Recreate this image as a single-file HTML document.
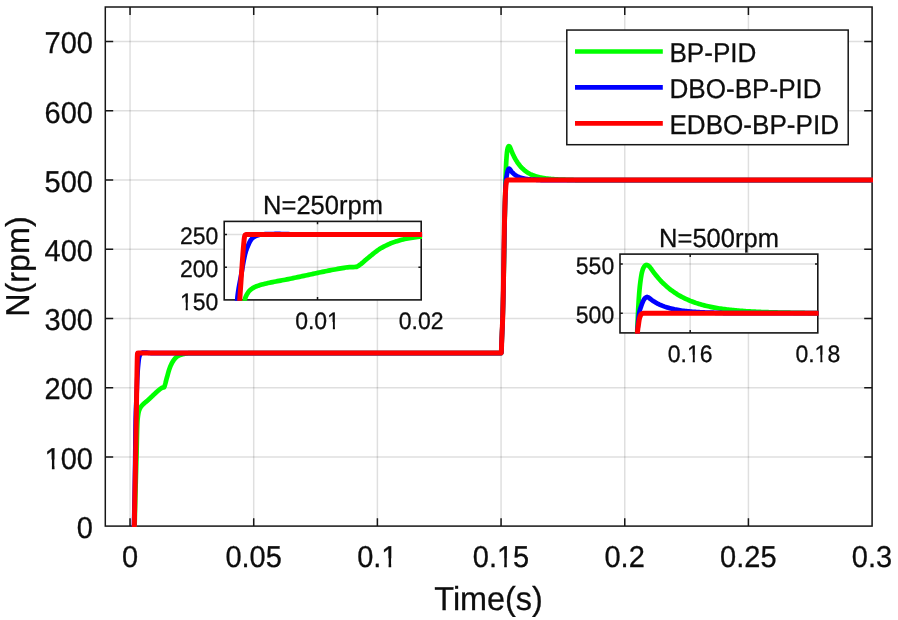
<!DOCTYPE html>
<html lang="en"><head><meta charset="utf-8"><title>Speed response</title>
<style>
html,body{margin:0;padding:0;background:#fff;}
body{width:898px;height:620px;overflow:hidden;position:relative;font-family:"Liberation Sans",Arial,sans-serif;}
</style></head><body>
<svg width="898" height="620" viewBox="0 0 898 620" style="position:absolute;left:0;top:0">
<defs>
<clipPath id="cm"><rect x="104.39999999999999" y="6.1" width="768.6" height="520.9"/></clipPath>
<clipPath id="c1"><rect x="223.29999999999998" y="220.5" width="198.8" height="80.29999999999997"/></clipPath>
<clipPath id="c2"><rect x="619.1" y="253.2" width="199.59999999999997" height="80.59999999999998"/></clipPath>
</defs>
<rect width="898" height="620" fill="#fff"/>
<path d="M130.04,7.0 V526.1 M253.71,7.0 V526.1 M377.39,7.0 V526.1 M501.07,7.0 V526.1 M624.75,7.0 V526.1 M748.42,7.0 V526.1 M872.10,7.0 V526.1" stroke="#000" stroke-opacity="0.125" stroke-width="1.5" fill="none"/>
<path d="M105.3,456.89 H872.1 M105.3,387.67 H872.1 M105.3,318.46 H872.1 M105.3,249.25 H872.1 M105.3,180.03 H872.1 M105.3,110.82 H872.1 M105.3,41.61 H872.1" stroke="#000" stroke-opacity="0.125" stroke-width="1.5" fill="none"/>
<path d="M130.04,526.1 v-7.9 M130.04,7.0 v7.9 M253.71,526.1 v-7.9 M253.71,7.0 v7.9 M377.39,526.1 v-7.9 M377.39,7.0 v7.9 M501.07,526.1 v-7.9 M501.07,7.0 v7.9 M624.75,526.1 v-7.9 M624.75,7.0 v7.9 M748.42,526.1 v-7.9 M748.42,7.0 v7.9 M105.3,456.89 h7.9 M872.1,456.89 h-7.9 M105.3,387.67 h7.9 M872.1,387.67 h-7.9 M105.3,318.46 h7.9 M872.1,318.46 h-7.9 M105.3,249.25 h7.9 M872.1,249.25 h-7.9 M105.3,180.03 h7.9 M872.1,180.03 h-7.9 M105.3,110.82 h7.9 M872.1,110.82 h-7.9 M105.3,41.61 h7.9 M872.1,41.61 h-7.9" stroke="#161616" stroke-width="1.5" fill="none"/>
<rect x="105.3" y="7.0" width="766.8000000000001" height="519.1" fill="none" stroke="#161616" stroke-width="1.5"/>
<g clip-path="url(#cm)" fill="none" stroke-linejoin="round" stroke-linecap="butt">
<path d="M134.24,543.40 L134.27,542.07 L134.29,540.74 L134.32,539.41 L134.35,538.08 L134.38,536.75 L134.41,535.42 L134.43,534.08 L134.46,532.75 L134.49,531.42 L134.52,530.09 L134.55,528.76 L134.58,527.43 L134.61,526.10 L134.64,524.77 L134.67,523.43 L134.71,522.10 L134.74,520.77 L134.77,519.43 L134.80,518.10 L134.83,516.76 L134.87,515.43 L134.90,514.10 L134.93,512.77 L134.97,511.43 L135.00,510.10 L135.04,508.77 L135.07,507.43 L135.10,506.10 L135.14,504.77 L135.17,503.43 L135.21,502.10 L135.24,500.77 L135.28,499.44 L135.31,498.10 L135.35,496.77 L135.38,495.44 L135.42,494.11 L135.46,492.77 L135.49,491.44 L135.53,490.11 L135.56,488.78 L135.60,487.45 L135.63,486.12 L135.67,484.79 L135.71,483.46 L135.75,482.13 L135.78,480.80 L135.82,479.48 L135.86,478.15 L135.90,476.82 L135.93,475.49 L135.97,474.16 L136.01,472.83 L136.05,471.50 L136.09,470.17 L136.12,468.85 L136.16,467.52 L136.20,466.19 L136.24,464.86 L136.28,463.53 L136.31,462.20 L136.35,460.87 L136.39,459.54 L136.43,458.22 L136.47,456.89 L136.50,455.56 L136.54,454.23 L136.57,452.90 L136.60,451.56 L136.63,450.23 L136.66,448.89 L136.69,447.55 L136.72,446.21 L136.75,444.87 L136.78,443.53 L136.80,442.19 L136.83,440.85 L136.86,439.52 L136.89,438.18 L136.92,436.84 L136.96,435.51 L136.99,434.18 L137.03,432.86 L137.07,431.53 L137.11,430.21 L137.15,428.90 L137.20,427.58 L137.25,426.28 L137.30,424.98 L137.36,423.68 L137.42,422.39 L137.49,421.10 L137.58,419.73 L137.71,418.36 L137.86,417.01 L138.03,415.70 L138.22,414.37 L138.44,413.07 L138.69,411.90 L138.95,410.96 L139.23,410.08 L139.54,409.28 L139.86,408.58 L140.24,407.85 L140.65,407.20 L141.07,406.61 L141.49,406.08 L141.85,405.66 L142.22,405.25 L142.58,404.86 L142.95,404.48 L143.33,404.12 L143.70,403.77 L144.07,403.43 L144.45,403.10 L144.82,402.78 L145.20,402.47 L145.58,402.15 L145.96,401.84 L146.33,401.53 L146.71,401.22 L147.09,400.91 L147.47,400.59 L147.84,400.26 L148.22,399.92 L148.58,399.59 L148.95,399.25 L149.32,398.91 L149.68,398.57 L150.05,398.22 L150.42,397.87 L150.78,397.53 L151.15,397.18 L151.52,396.83 L151.88,396.48 L152.25,396.13 L152.61,395.77 L152.98,395.42 L153.35,395.07 L153.71,394.72 L154.08,394.38 L154.45,394.03 L154.81,393.69 L155.18,393.34 L155.55,393.00 L155.91,392.67 L156.28,392.33 L156.65,392.00 L157.02,391.67 L157.38,391.35 L157.75,391.03 L158.12,390.71 L158.49,390.40 L158.86,390.09 L159.23,389.79 L159.60,389.49 L159.97,389.20 L160.34,388.92 L160.71,388.64 L161.12,388.33 L161.53,388.03 L161.94,387.81 L162.38,387.68 L162.83,387.60 L163.27,387.53 L163.70,387.43 L164.10,387.26 L164.52,386.38 L164.91,385.04 L165.19,384.13 L165.46,383.17 L165.71,382.18 L165.97,381.17 L166.22,380.16 L166.48,379.16 L166.74,378.19 L167.01,377.24 L167.28,376.27 L167.54,375.30 L167.81,374.33 L168.08,373.37 L168.35,372.41 L168.62,371.47 L168.90,370.55 L169.18,369.66 L169.47,368.80 L169.76,367.97 L170.06,367.19 L170.36,366.43 L170.68,365.69 L171.00,364.96 L171.33,364.26 L171.66,363.57 L172.00,362.92 L172.34,362.29 L172.68,361.69 L173.03,361.13 L173.37,360.61 L173.73,360.11 L174.09,359.62 L174.45,359.15 L174.82,358.70 L175.19,358.27 L175.56,357.88 L175.94,357.51 L176.31,357.17 L176.69,356.87 L177.08,356.59 L177.48,356.32 L177.89,356.08 L178.29,355.85 L178.70,355.64 L179.10,355.45 L179.51,355.28 L179.89,355.13 L180.26,354.99 L180.64,354.85 L181.02,354.72 L181.40,354.60 L181.79,354.48 L182.17,354.36 L182.55,354.26 L182.93,354.16 L183.31,354.06 L183.69,353.98 L184.07,353.90 L184.45,353.83 L184.84,353.76 L185.23,353.69 L185.61,353.62 L186.00,353.56 L186.38,353.49 L186.77,353.43 L187.16,353.37 L187.54,353.31 L187.93,353.26 L188.32,353.21 L188.70,353.17 L189.09,353.13 L189.48,353.11 L189.86,353.08 L190.25,353.07 L190.64,353.07 L191.02,353.07 L191.41,353.07 L191.80,353.07 L192.18,353.07 L192.57,353.07 L192.96,353.07 L193.34,353.07 L193.73,353.07 L194.12,353.07 L194.50,353.07 L194.89,353.07 L195.27,353.07 L195.66,353.07 L196.05,353.07 L196.43,353.07 L196.82,353.07 L501.19,353.07 L501.36,352.03 L501.41,350.60 L501.46,349.18 L501.51,347.76 L501.56,346.33 L501.60,344.91 L501.65,343.49 L501.71,342.07 L501.76,340.65 L501.81,339.22 L501.86,337.92 L501.91,336.63 L501.97,335.33 L502.02,334.03 L502.08,332.73 L502.13,331.44 L502.19,330.14 L502.25,328.85 L502.31,327.55 L502.36,326.25 L502.42,324.96 L502.47,323.66 L502.52,322.36 L502.57,321.06 L502.61,319.76 L502.65,318.46 L502.74,315.36 L502.83,312.26 L502.92,309.15 L503.00,306.05 L503.08,302.94 L503.16,299.83 L503.23,296.72 L503.31,293.61 L503.38,290.50 L503.45,287.39 L503.51,284.28 L503.58,281.16 L503.65,278.05 L503.71,274.93 L503.77,271.82 L503.83,268.70 L503.89,265.59 L503.95,262.47 L504.01,259.35 L504.07,256.23 L504.12,253.11 L504.18,249.99 L504.23,246.88 L504.29,243.76 L504.35,240.64 L504.40,237.52 L504.46,234.40 L504.51,231.28 L504.57,228.16 L504.63,225.04 L504.68,221.92 L504.74,218.80 L504.80,215.69 L504.86,212.57 L504.92,209.45 L504.98,206.34 L505.05,203.22 L505.11,200.10 L505.18,196.99 L505.25,193.88 L505.28,192.57 L505.31,191.26 L505.33,189.95 L505.36,188.64 L505.39,187.34 L505.42,186.03 L505.45,184.72 L505.49,183.42 L505.52,182.11 L505.56,180.72 L505.60,179.33 L505.63,177.95 L505.67,176.56 L505.71,175.17 L505.76,173.78 L505.80,172.40 L505.85,171.01 L505.90,169.63 L505.95,168.25 L506.01,166.87 L506.06,165.50 L506.13,164.15 L506.20,162.81 L506.27,161.46 L506.35,160.13 L506.44,158.79 L506.53,157.47 L506.63,156.15 L506.74,154.79 L506.87,153.42 L507.01,152.08 L507.18,150.83 L507.40,149.48 L507.68,148.20 L507.99,147.23 L508.38,146.49 L508.81,146.12 L509.21,146.27 L509.60,146.60 L510.05,147.34 L510.47,148.33 L510.80,149.15 L511.13,150.02 L511.46,150.87 L511.78,151.66 L512.11,152.44 L512.45,153.20 L512.77,153.93 L513.10,154.64 L513.44,155.35 L513.76,156.02 L514.09,156.68 L514.42,157.32 L514.75,157.94 L515.08,158.54 L515.41,159.14 L515.91,159.99 L516.40,160.81 L516.90,161.59 L517.39,162.34 L517.89,163.06 L518.38,163.76 L518.88,164.42 L519.37,165.06 L519.87,165.67 L520.36,166.26 L520.86,166.82 L521.35,167.36 L521.84,167.87 L522.34,168.37 L522.83,168.85 L523.33,169.30 L523.82,169.74 L524.32,170.16 L524.81,170.56 L525.31,170.95 L525.80,171.32 L526.30,171.68 L526.79,172.02 L527.29,172.35 L527.78,172.66 L528.28,172.96 L528.77,173.25 L529.27,173.53 L529.76,173.79 L530.26,174.05 L530.75,174.29 L531.25,174.52 L531.74,174.75 L532.23,174.97 L532.73,175.17 L533.22,175.37 L533.72,175.56 L534.21,175.74 L534.71,175.92 L535.20,176.09 L535.70,176.25 L536.19,176.40 L536.69,176.55 L537.18,176.69 L537.68,176.83 L538.17,176.96 L538.67,177.08 L539.16,177.21 L539.66,177.32 L540.15,177.43 L540.64,177.54 L541.14,177.64 L541.63,177.74 L542.13,177.83 L542.62,177.92 L543.12,178.01 L543.61,178.09 L544.11,178.17 L544.60,178.24 L545.10,178.32 L545.59,178.39 L546.09,178.46 L546.58,178.52 L547.08,178.58 L547.57,178.64 L548.07,178.70 L548.56,178.75 L549.05,178.80 L549.55,178.85 L550.04,178.90 L550.54,178.95 L551.03,178.99 L551.53,179.04 L552.02,179.08 L552.52,179.12 L553.01,179.15 L553.51,179.19 L554.00,179.22 L554.50,179.26 L554.99,179.29 L555.49,179.32 L555.98,179.35 L556.48,179.38 L556.97,179.40 L557.46,179.43 L557.96,179.45 L558.45,179.48 L558.95,179.50 L559.44,179.52 L559.94,179.54 L560.43,179.56 L560.93,179.58 L561.42,179.60 L561.92,179.62 L562.41,179.63 L562.91,179.65 L563.40,179.67 L563.90,179.68 L564.39,179.70 L564.89,179.71 L565.26,179.72 L565.63,179.73 L566.00,179.74 L566.37,179.75 L566.74,179.76 L567.11,179.78 L567.48,179.79 L567.85,179.80 L568.22,179.81 L568.60,179.82 L568.97,179.83 L569.34,179.84 L569.71,179.85 L570.08,179.87 L570.45,179.88 L570.82,179.89 L571.19,179.90 L571.56,179.91 L571.93,179.92 L572.31,179.94 L572.68,179.95 L573.05,179.96 L573.42,179.97 L573.79,179.98 L574.16,180.00 L574.53,180.01 L574.90,180.02 L575.27,180.03 L896.84,180.03" stroke="#00ff00" stroke-width="4.7"/>
<path d="M133.65,543.40 L133.67,542.07 L133.70,540.74 L133.73,539.41 L133.75,538.08 L133.78,536.75 L133.81,535.42 L133.83,534.09 L133.86,532.75 L133.89,531.42 L133.91,530.09 L133.94,528.76 L133.97,527.43 L133.99,526.10 L134.02,524.77 L134.05,523.43 L134.08,522.10 L134.10,520.77 L134.13,519.44 L134.16,518.10 L134.19,516.77 L134.22,515.44 L134.25,514.10 L134.28,512.77 L134.31,511.44 L134.33,510.11 L134.36,508.77 L134.39,507.44 L134.42,506.11 L134.45,504.77 L134.48,503.44 L134.50,502.11 L134.53,500.78 L134.56,499.44 L134.59,498.11 L134.61,496.78 L134.64,495.44 L134.66,494.11 L134.69,492.78 L134.71,491.44 L134.74,490.11 L134.76,488.78 L134.78,487.45 L134.80,486.12 L134.82,484.80 L134.85,483.47 L134.87,482.14 L134.89,480.81 L134.91,479.48 L134.93,478.15 L134.95,476.82 L134.97,475.50 L134.99,474.17 L135.01,472.84 L135.03,471.51 L135.05,470.18 L135.07,468.85 L135.09,467.52 L135.11,466.19 L135.12,464.86 L135.14,463.53 L135.16,462.20 L135.18,460.87 L135.20,459.55 L135.21,458.22 L135.23,456.89 L135.25,455.56 L135.26,454.24 L135.28,452.91 L135.29,451.58 L135.31,450.26 L135.32,448.93 L135.33,447.60 L135.34,446.28 L135.36,444.95 L135.37,443.62 L135.38,442.30 L135.39,440.97 L135.41,439.64 L135.42,438.32 L135.43,436.99 L135.44,435.66 L135.46,434.34 L135.47,433.01 L135.49,431.69 L135.50,430.36 L135.52,429.04 L135.54,427.71 L135.55,426.39 L135.57,425.07 L135.59,423.75 L135.62,422.42 L135.64,421.10 L135.66,419.77 L135.69,418.44 L135.73,417.12 L135.77,415.79 L135.81,414.46 L135.85,413.13 L135.90,411.81 L135.95,410.48 L136.00,409.16 L136.05,407.83 L136.11,406.51 L136.16,405.18 L136.22,403.86 L136.28,402.53 L136.34,401.21 L136.39,399.89 L136.45,398.56 L136.51,397.24 L136.56,395.92 L136.62,394.59 L136.67,393.29 L136.72,391.98 L136.77,390.67 L136.82,389.36 L136.87,388.05 L136.92,386.74 L136.97,385.43 L137.02,384.13 L137.07,382.82 L137.13,381.51 L137.18,380.21 L137.24,378.91 L137.30,377.61 L137.37,376.31 L137.43,375.02 L137.51,373.73 L137.58,372.45 L137.66,371.16 L137.75,369.88 L137.86,368.61 L137.96,367.34 L138.08,366.08 L138.20,364.83 L138.34,363.39 L138.48,361.92 L138.64,360.49 L138.82,359.13 L139.03,357.91 L139.26,356.91 L139.54,355.94 L139.85,355.10 L140.18,354.45 L140.59,353.86 L141.04,353.38 L141.49,353.07 L141.90,352.89 L142.31,352.74 L142.73,352.64 L143.15,352.58 L143.52,352.56 L143.89,352.54 L144.26,352.53 L144.63,352.52 L145.00,352.52 L145.37,352.51 L145.78,352.53 L146.20,352.57 L146.61,352.62 L147.02,352.68 L147.43,352.74 L147.85,352.79 L148.25,352.83 L148.65,352.87 L149.05,352.90 L149.45,352.94 L149.85,352.97 L150.26,353.01 L150.66,353.04 L151.06,353.07 L501.19,353.07 L501.36,352.03 L501.41,350.60 L501.46,349.18 L501.51,347.76 L501.56,346.33 L501.60,344.91 L501.65,343.49 L501.71,342.07 L501.76,340.65 L501.81,339.22 L501.86,337.92 L501.91,336.63 L501.97,335.33 L502.02,334.03 L502.08,332.73 L502.13,331.44 L502.19,330.14 L502.25,328.85 L502.30,327.55 L502.36,326.25 L502.41,324.96 L502.47,323.66 L502.52,322.36 L502.56,321.06 L502.61,319.76 L502.65,318.46 L502.74,315.36 L502.83,312.25 L502.91,309.15 L502.99,306.04 L503.07,302.93 L503.14,299.81 L503.22,296.70 L503.28,293.58 L503.35,290.47 L503.41,287.35 L503.47,284.23 L503.53,281.11 L503.59,277.99 L503.64,274.87 L503.69,271.74 L503.75,268.62 L503.80,265.50 L503.85,262.37 L503.90,259.25 L503.96,256.13 L504.01,253.00 L504.06,249.88 L504.11,246.76 L504.17,243.64 L504.22,240.51 L504.28,237.39 L504.34,234.27 L504.40,231.16 L504.46,228.04 L504.52,224.92 L504.59,221.81 L504.66,218.70 L504.73,215.59 L504.81,212.48 L504.89,209.37 L504.97,206.27 L505.06,203.17 L505.15,200.07 L505.25,196.97 L505.35,193.88 L505.39,192.48 L505.44,191.07 L505.49,189.66 L505.55,188.24 L505.60,186.83 L505.67,185.43 L505.74,184.05 L505.82,182.68 L505.91,181.34 L506.01,180.03 L506.15,178.81 L506.33,177.62 L506.54,176.46 L506.76,175.33 L506.97,174.19 L507.19,173.06 L507.44,172.00 L507.70,171.04 L508.07,169.92 L508.49,169.10 L508.78,168.77 L509.08,168.61 L509.41,168.78 L509.73,169.10 L510.10,169.62 L510.47,170.21 L510.96,170.86 L511.46,171.47 L511.95,172.04 L512.45,172.57 L512.94,173.07 L513.44,173.54 L513.93,173.97 L514.42,174.37 L514.92,174.75 L515.41,175.10 L515.91,175.43 L516.40,175.74 L516.90,176.02 L517.39,176.29 L517.89,176.54 L518.38,176.77 L518.88,176.99 L519.37,177.19 L519.87,177.38 L520.36,177.56 L520.86,177.72 L521.35,177.88 L521.85,178.02 L522.34,178.16 L522.83,178.28 L523.33,178.40 L523.82,178.51 L524.32,178.61 L524.81,178.70 L525.31,178.79 L525.80,178.87 L526.30,178.95 L526.79,179.02 L527.29,179.09 L527.78,179.15 L528.28,179.21 L528.77,179.27 L529.27,179.32 L529.76,179.37 L530.26,179.41 L530.75,179.45 L531.25,179.49 L531.74,179.53 L532.23,179.56 L532.73,179.59 L533.22,179.62 L533.72,179.65 L534.21,179.67 L534.71,179.70 L535.20,179.72 L535.59,179.74 L535.98,179.76 L536.37,179.78 L536.76,179.80 L537.15,179.82 L537.53,179.84 L537.92,179.87 L538.31,179.89 L538.70,179.91 L539.09,179.93 L539.48,179.96 L539.87,179.98 L540.26,180.01 L540.64,180.03 L896.84,180.03" stroke="#0000ff" stroke-width="4.7"/>
<path d="M133.94,543.40 L133.97,542.07 L134.00,540.74 L134.02,539.41 L134.05,538.08 L134.08,536.75 L134.10,535.42 L134.13,534.09 L134.16,532.76 L134.18,531.42 L134.21,530.09 L134.24,528.76 L134.26,527.43 L134.29,526.10 L134.32,524.77 L134.34,523.43 L134.37,522.10 L134.39,520.77 L134.42,519.44 L134.45,518.10 L134.47,516.77 L134.50,515.44 L134.52,514.10 L134.55,512.77 L134.57,511.44 L134.60,510.10 L134.63,508.77 L134.65,507.44 L134.68,506.11 L134.70,504.77 L134.73,503.44 L134.75,502.11 L134.78,500.77 L134.80,499.44 L134.83,498.11 L134.85,496.77 L134.88,495.44 L134.91,494.11 L134.93,492.78 L134.96,491.44 L134.98,490.11 L135.01,488.78 L135.03,487.45 L135.06,486.12 L135.09,484.79 L135.11,483.46 L135.14,482.14 L135.16,480.81 L135.19,479.48 L135.22,478.15 L135.24,476.82 L135.27,475.49 L135.30,474.16 L135.32,472.83 L135.35,471.51 L135.37,470.18 L135.40,468.85 L135.43,467.52 L135.45,466.19 L135.48,464.86 L135.50,463.53 L135.53,462.20 L135.55,460.87 L135.58,459.55 L135.60,458.22 L135.63,456.89 L135.65,455.56 L135.67,454.24 L135.70,452.91 L135.72,451.59 L135.74,450.26 L135.77,448.94 L135.79,447.61 L135.81,446.29 L135.84,444.96 L135.86,443.64 L135.88,442.31 L135.90,440.98 L135.93,439.66 L135.95,438.33 L135.97,437.01 L135.99,435.68 L136.02,434.36 L136.04,433.03 L136.06,431.71 L136.08,430.38 L136.10,429.06 L136.12,427.73 L136.15,426.41 L136.17,425.08 L136.19,423.75 L136.21,422.43 L136.23,421.10 L136.25,419.80 L136.27,418.49 L136.29,417.18 L136.31,415.88 L136.33,414.57 L136.35,413.27 L136.37,411.96 L136.39,410.65 L136.41,409.35 L136.43,408.04 L136.45,406.73 L136.47,405.43 L136.49,404.12 L136.51,402.81 L136.53,401.51 L136.55,400.20 L136.57,398.89 L136.59,397.59 L136.61,396.28 L136.63,394.97 L136.65,393.67 L136.67,392.36 L136.69,391.06 L136.71,389.75 L136.74,388.40 L136.76,387.04 L136.78,385.69 L136.80,384.34 L136.82,382.98 L136.84,381.63 L136.86,380.28 L136.89,378.92 L136.91,377.57 L136.93,376.22 L136.95,374.86 L136.97,373.51 L137.00,372.16 L137.02,370.80 L137.04,369.45 L137.07,368.10 L137.09,366.74 L137.12,365.39 L137.15,364.04 L137.17,362.69 L137.20,361.34 L137.23,359.99 L137.27,358.48 L137.30,356.97 L137.36,355.49 L137.42,354.28 L137.53,353.41 L137.70,353.17 L137.95,353.07 L501.19,353.07 L501.36,352.03 L501.41,350.60 L501.46,349.18 L501.51,347.76 L501.56,346.33 L501.60,344.91 L501.65,343.49 L501.71,342.07 L501.76,340.65 L501.81,339.22 L501.86,337.92 L501.91,336.63 L501.97,335.33 L502.02,334.03 L502.08,332.73 L502.13,331.44 L502.19,330.14 L502.25,328.85 L502.30,327.55 L502.36,326.25 L502.41,324.96 L502.47,323.66 L502.52,322.36 L502.56,321.06 L502.61,319.76 L502.65,318.46 L502.74,315.36 L502.83,312.25 L502.91,309.14 L502.99,306.03 L503.06,302.91 L503.13,299.79 L503.20,296.67 L503.26,293.54 L503.32,290.42 L503.37,287.29 L503.43,284.16 L503.48,281.03 L503.53,277.89 L503.58,274.76 L503.63,271.63 L503.67,268.49 L503.72,265.36 L503.77,262.22 L503.81,259.09 L503.86,255.96 L503.91,252.83 L503.96,249.70 L504.01,246.57 L504.06,243.44 L504.11,240.32 L504.17,237.20 L504.22,234.08 L504.28,230.96 L504.35,227.85 L504.42,224.74 L504.49,221.63 L504.56,218.53 L504.64,215.43 L504.73,212.33 L504.82,209.24 L504.91,206.16 L505.01,203.08 L505.12,200.01 L505.23,196.94 L505.35,193.88 L505.43,192.31 L505.54,190.75 L505.66,189.19 L505.79,187.65 L505.89,186.35 L506.00,185.07 L506.14,183.84 L506.35,182.44 L506.63,181.28 L506.92,180.57 L507.25,180.17 L507.74,180.07 L508.24,180.03 L508.61,180.03 L508.98,180.03 L509.35,180.03 L509.73,180.03 L896.84,180.03" stroke="#ff0000" stroke-width="5.0"/>
</g>
<rect x="224.2" y="221.4" width="197.0" height="78.49999999999997" fill="#fff"/>
<path d="M317.52,221.4 V299.9" stroke="#000" stroke-opacity="0.125" stroke-width="1.5" fill="none"/>
<path d="M224.2,267.19 H421.2 M224.2,234.48 H421.2" stroke="#000" stroke-opacity="0.125" stroke-width="1.5" fill="none"/>
<path d="M317.52,299.9 v-2.8 M317.52,221.4 v2.8 M224.2,267.19 h2.8 M421.2,267.19 h-2.8 M224.2,234.48 h2.8 M421.2,234.48 h-2.8" stroke="#161616" stroke-width="1.5" fill="none"/>
<rect x="224.2" y="221.4" width="197.0" height="78.49999999999997" fill="none" stroke="#161616" stroke-width="1.6"/>
<g clip-path="url(#c1)" fill="none" stroke-linejoin="round" stroke-linecap="butt">
<path d="M231.46,414.38 L231.57,413.12 L231.68,411.86 L231.80,410.60 L231.92,409.35 L232.03,408.09 L232.15,406.83 L232.27,405.57 L232.39,404.31 L232.51,403.06 L232.63,401.80 L232.76,400.54 L232.89,399.28 L233.01,398.02 L233.14,396.76 L233.27,395.50 L233.41,394.24 L233.54,392.98 L233.67,391.72 L233.81,390.46 L233.95,389.20 L234.08,387.94 L234.22,386.68 L234.36,385.42 L234.50,384.16 L234.65,382.90 L234.79,381.64 L234.93,380.38 L235.08,379.12 L235.22,377.86 L235.37,376.60 L235.51,375.34 L235.66,374.08 L235.81,372.82 L235.96,371.56 L236.10,370.31 L236.25,369.05 L236.40,367.79 L236.55,366.53 L236.70,365.27 L236.85,364.01 L237.00,362.75 L237.15,361.50 L237.30,360.24 L237.46,358.98 L237.61,357.73 L237.77,356.47 L237.92,355.21 L238.08,353.96 L238.24,352.70 L238.39,351.45 L238.55,350.19 L238.71,348.93 L238.87,347.68 L239.03,346.42 L239.19,345.17 L239.35,343.91 L239.51,342.66 L239.67,341.40 L239.83,340.14 L239.99,338.89 L240.15,337.63 L240.31,336.38 L240.47,335.12 L240.63,333.86 L240.79,332.61 L240.94,331.35 L241.09,330.10 L241.23,328.84 L241.36,327.58 L241.49,326.31 L241.61,325.05 L241.73,323.78 L241.85,322.52 L241.97,321.25 L242.08,319.99 L242.20,318.72 L242.32,317.45 L242.45,316.19 L242.58,314.93 L242.71,313.67 L242.85,312.41 L242.99,311.15 L243.15,309.90 L243.31,308.64 L243.48,307.40 L243.67,306.15 L243.86,304.91 L244.07,303.68 L244.30,302.45 L244.54,301.22 L244.79,300.00 L245.06,298.79 L245.46,297.49 L246.00,296.19 L246.65,294.92 L247.34,293.69 L248.14,292.42 L249.07,291.20 L250.12,290.09 L251.18,289.20 L252.39,288.37 L253.67,287.61 L254.99,286.95 L256.62,286.26 L258.32,285.65 L260.08,285.09 L261.84,284.59 L263.36,284.19 L264.89,283.80 L266.43,283.43 L267.98,283.08 L269.54,282.74 L271.10,282.41 L272.67,282.09 L274.25,281.78 L275.82,281.47 L277.40,281.17 L278.99,280.88 L280.57,280.58 L282.15,280.29 L283.74,280.00 L285.32,279.70 L286.89,279.40 L288.47,279.09 L290.04,278.77 L291.58,278.45 L293.12,278.13 L294.65,277.81 L296.19,277.49 L297.73,277.16 L299.26,276.83 L300.80,276.50 L302.34,276.17 L303.87,275.84 L305.41,275.51 L306.94,275.18 L308.48,274.85 L310.01,274.52 L311.55,274.19 L313.08,273.86 L314.62,273.53 L316.16,273.20 L317.69,272.87 L319.23,272.55 L320.77,272.23 L322.31,271.91 L323.85,271.59 L325.39,271.28 L326.93,270.97 L328.47,270.66 L330.01,270.36 L331.56,270.06 L333.10,269.77 L334.65,269.48 L336.20,269.19 L337.75,268.91 L339.30,268.64 L340.85,268.37 L342.40,268.11 L344.12,267.81 L345.85,267.53 L347.58,267.32 L349.42,267.20 L351.29,267.12 L353.16,267.06 L354.95,266.96 L356.60,266.80 L358.39,265.97 L360.03,264.71 L361.19,263.85 L362.30,262.94 L363.38,262.00 L364.45,261.05 L365.51,260.09 L366.59,259.15 L367.70,258.23 L368.82,257.33 L369.93,256.42 L371.05,255.50 L372.17,254.58 L373.29,253.67 L374.43,252.77 L375.57,251.88 L376.73,251.01 L377.91,250.17 L379.12,249.35 L380.34,248.57 L381.59,247.83 L382.88,247.11 L384.19,246.41 L385.54,245.73 L386.91,245.06 L388.31,244.41 L389.72,243.79 L391.15,243.20 L392.59,242.64 L394.03,242.11 L395.49,241.61 L396.97,241.14 L398.48,240.68 L400.01,240.23 L401.55,239.81 L403.10,239.41 L404.66,239.03 L406.23,238.68 L407.81,238.36 L409.38,238.08 L411.05,237.81 L412.72,237.56 L414.41,237.33 L416.11,237.11 L417.80,236.92 L419.50,236.74 L421.20,236.58 L422.79,236.44 L424.38,236.30 L425.97,236.17 L427.56,236.05 L429.16,235.93 L430.75,235.82 L432.35,235.71 L433.95,235.61 L435.55,235.51 L437.14,235.43 L438.74,235.34 L440.34,235.27 L441.94,235.20 L443.55,235.14 L445.17,235.07 L446.79,235.01 L448.41,234.95 L450.03,234.88 L451.65,234.82 L453.27,234.77 L454.89,234.71 L456.51,234.67 L458.13,234.62 L459.75,234.58 L461.37,234.55 L463.00,234.52 L464.62,234.50 L466.24,234.49 L467.86,234.48 L469.48,234.48 L471.10,234.48 L472.72,234.48 L474.34,234.48 L475.96,234.48 L477.58,234.48 L479.20,234.48 L480.82,234.48 L482.44,234.48 L484.06,234.48 L485.68,234.48 L487.30,234.48 L488.92,234.48 L490.54,234.48 L492.16,234.48 L493.78,234.48 L1769.61,234.48" stroke="#00ff00" stroke-width="4.7"/>
<path d="M228.97,414.38 L229.08,413.12 L229.19,411.86 L229.30,410.60 L229.41,409.35 L229.52,408.09 L229.64,406.83 L229.75,405.57 L229.86,404.31 L229.97,403.06 L230.08,401.80 L230.20,400.54 L230.31,399.28 L230.42,398.02 L230.54,396.77 L230.65,395.51 L230.77,394.25 L230.89,392.99 L231.00,391.73 L231.12,390.47 L231.25,389.21 L231.37,387.95 L231.49,386.69 L231.61,385.43 L231.73,384.17 L231.85,382.91 L231.97,381.65 L232.09,380.39 L232.21,379.13 L232.33,377.87 L232.45,376.61 L232.57,375.35 L232.68,374.09 L232.79,372.83 L232.91,371.57 L233.02,370.31 L233.12,369.05 L233.23,367.79 L233.33,366.53 L233.43,365.27 L233.53,364.01 L233.63,362.75 L233.72,361.50 L233.81,360.24 L233.91,358.99 L234.00,357.73 L234.09,356.48 L234.18,355.22 L234.26,353.96 L234.35,352.71 L234.43,351.45 L234.52,350.20 L234.60,348.94 L234.68,347.68 L234.77,346.43 L234.85,345.17 L234.93,343.92 L235.00,342.66 L235.08,341.40 L235.16,340.15 L235.24,338.89 L235.31,337.63 L235.39,336.38 L235.46,335.12 L235.53,333.86 L235.61,332.61 L235.68,331.36 L235.74,330.10 L235.80,328.85 L235.87,327.60 L235.92,326.34 L235.98,325.09 L236.03,323.83 L236.09,322.58 L236.14,321.33 L236.19,320.07 L236.24,318.82 L236.29,317.56 L236.34,316.31 L236.39,315.06 L236.45,313.80 L236.50,312.55 L236.56,311.30 L236.62,310.04 L236.68,308.79 L236.75,307.54 L236.81,306.29 L236.89,305.03 L236.96,303.78 L237.04,302.53 L237.13,301.28 L237.22,300.04 L237.32,298.79 L237.43,297.53 L237.55,296.27 L237.70,295.02 L237.86,293.76 L238.03,292.51 L238.21,291.26 L238.41,290.00 L238.62,288.75 L238.83,287.50 L239.06,286.24 L239.29,284.99 L239.52,283.74 L239.76,282.49 L240.00,281.24 L240.24,279.99 L240.48,278.74 L240.72,277.49 L240.96,276.23 L241.19,274.98 L241.41,273.73 L241.63,272.50 L241.84,271.26 L242.05,270.03 L242.26,268.79 L242.47,267.55 L242.68,266.31 L242.89,265.08 L243.11,263.84 L243.33,262.60 L243.56,261.37 L243.79,260.14 L244.04,258.91 L244.29,257.68 L244.56,256.45 L244.85,255.23 L245.14,254.01 L245.46,252.80 L245.80,251.59 L246.19,250.38 L246.61,249.17 L247.07,247.97 L247.55,246.78 L248.05,245.60 L248.63,244.24 L249.23,242.86 L249.90,241.50 L250.65,240.22 L251.52,239.06 L252.49,238.11 L253.67,237.20 L254.99,236.41 L256.34,235.79 L258.07,235.23 L259.94,234.78 L261.84,234.48 L263.55,234.31 L265.29,234.18 L267.04,234.08 L268.78,234.03 L270.34,234.01 L271.89,233.99 L273.45,233.98 L275.00,233.97 L276.56,233.96 L278.12,233.96 L279.84,233.97 L281.57,234.01 L283.30,234.06 L285.03,234.12 L286.76,234.18 L288.48,234.22 L290.17,234.26 L291.85,234.29 L293.54,234.33 L295.22,234.36 L296.91,234.39 L298.59,234.43 L300.28,234.46 L301.96,234.48 L1769.61,234.48" stroke="#0000ff" stroke-width="4.7"/>
<path d="M230.21,414.38 L230.33,413.12 L230.44,411.86 L230.55,410.61 L230.66,409.35 L230.78,408.09 L230.89,406.83 L231.00,405.57 L231.11,404.32 L231.22,403.06 L231.33,401.80 L231.45,400.54 L231.56,399.28 L231.67,398.02 L231.77,396.77 L231.88,395.51 L231.99,394.25 L232.10,392.99 L232.21,391.73 L232.32,390.47 L232.43,389.21 L232.53,387.95 L232.64,386.69 L232.75,385.43 L232.86,384.17 L232.96,382.91 L233.07,381.65 L233.18,380.39 L233.28,379.13 L233.39,377.87 L233.50,376.61 L233.60,375.35 L233.71,374.09 L233.82,372.83 L233.92,371.57 L234.03,370.31 L234.14,369.05 L234.25,367.79 L234.35,366.53 L234.46,365.27 L234.57,364.01 L234.68,362.75 L234.78,361.50 L234.89,360.24 L235.00,358.98 L235.11,357.73 L235.22,356.47 L235.33,355.22 L235.44,353.96 L235.55,352.70 L235.66,351.45 L235.77,350.19 L235.88,348.94 L235.99,347.68 L236.10,346.43 L236.21,345.17 L236.32,343.91 L236.43,342.66 L236.53,341.40 L236.64,340.15 L236.75,338.89 L236.85,337.63 L236.96,336.38 L237.06,335.12 L237.16,333.86 L237.26,332.61 L237.36,331.36 L237.46,330.10 L237.56,328.85 L237.66,327.60 L237.76,326.35 L237.86,325.09 L237.95,323.84 L238.05,322.59 L238.15,321.34 L238.24,320.08 L238.34,318.83 L238.43,317.58 L238.52,316.33 L238.62,315.07 L238.71,313.82 L238.80,312.57 L238.90,311.32 L238.99,310.06 L239.08,308.81 L239.17,307.56 L239.26,306.30 L239.35,305.05 L239.44,303.80 L239.53,302.55 L239.63,301.29 L239.71,300.04 L239.80,298.79 L239.89,297.55 L239.98,296.32 L240.06,295.08 L240.15,293.85 L240.23,292.61 L240.32,291.38 L240.40,290.15 L240.48,288.91 L240.57,287.68 L240.65,286.44 L240.73,285.21 L240.81,283.97 L240.89,282.74 L240.98,281.50 L241.06,280.27 L241.14,279.03 L241.22,277.80 L241.31,276.56 L241.39,275.33 L241.48,274.09 L241.56,272.86 L241.65,271.62 L241.74,270.39 L241.83,269.15 L241.92,267.88 L242.01,266.60 L242.10,265.32 L242.19,264.04 L242.28,262.76 L242.37,261.48 L242.46,260.20 L242.54,258.92 L242.63,257.64 L242.73,256.36 L242.82,255.08 L242.91,253.80 L243.01,252.52 L243.11,251.25 L243.21,249.97 L243.31,248.69 L243.42,247.41 L243.53,246.13 L243.64,244.86 L243.76,243.58 L243.88,242.30 L244.00,241.03 L244.14,239.60 L244.30,238.18 L244.52,236.77 L244.79,235.63 L245.25,234.81 L245.95,234.58 L247.01,234.48 L1769.61,234.48" stroke="#ff0000" stroke-width="5.0"/>
</g>
<rect x="620.0" y="254.1" width="197.79999999999995" height="78.79999999999998" fill="#fff"/>
<path d="M690.19,254.1 V332.9" stroke="#000" stroke-opacity="0.125" stroke-width="1.5" fill="none"/>
<path d="M620.0,313.20 H817.8 M620.0,263.95 H817.8" stroke="#000" stroke-opacity="0.125" stroke-width="1.5" fill="none"/>
<path d="M690.19,332.9 v-2.8 M690.19,254.1 v2.8 M620.0,313.20 h2.8 M817.8,313.20 h-2.8 M620.0,263.95 h2.8 M817.8,263.95 h-2.8" stroke="#161616" stroke-width="1.5" fill="none"/>
<rect x="620.0" y="254.1" width="197.79999999999995" height="78.79999999999998" fill="none" stroke="#161616" stroke-width="1.6"/>
<g clip-path="url(#c2)" fill="none" stroke-linejoin="round" stroke-linecap="butt">
<path d="M-158.44,559.45 L626.70,559.45 L627.15,557.97 L627.27,555.95 L627.39,553.92 L627.51,551.89 L627.64,549.87 L627.77,547.84 L627.90,545.82 L628.03,543.80 L628.16,541.77 L628.29,539.75 L628.42,537.90 L628.56,536.05 L628.70,534.21 L628.84,532.36 L628.99,530.52 L629.13,528.67 L629.28,526.82 L629.43,524.98 L629.57,523.14 L629.72,521.29 L629.86,519.44 L629.99,517.60 L630.12,515.75 L630.24,513.90 L630.36,512.05 L630.46,510.20 L630.70,505.79 L630.93,501.37 L631.15,496.95 L631.36,492.53 L631.57,488.11 L631.77,483.69 L631.96,479.27 L632.15,474.84 L632.34,470.41 L632.52,465.98 L632.69,461.55 L632.86,457.12 L633.03,452.69 L633.19,448.26 L633.35,443.82 L633.51,439.39 L633.66,434.95 L633.82,430.52 L633.97,426.08 L634.11,421.64 L634.26,417.20 L634.40,412.76 L634.55,408.33 L634.69,403.89 L634.84,399.45 L634.98,395.01 L635.12,390.57 L635.27,386.13 L635.41,381.69 L635.56,377.25 L635.71,372.81 L635.86,368.38 L636.01,363.94 L636.16,359.50 L636.32,355.07 L636.48,350.63 L636.65,346.20 L636.82,341.76 L636.99,337.33 L637.16,332.90 L637.24,331.04 L637.31,329.18 L637.39,327.32 L637.46,325.45 L637.54,323.59 L637.61,321.73 L637.69,319.87 L637.78,318.01 L637.87,316.15 L637.96,314.18 L638.06,312.21 L638.16,310.23 L638.26,308.25 L638.37,306.28 L638.48,304.30 L638.59,302.33 L638.71,300.36 L638.84,298.39 L638.98,296.43 L639.12,294.47 L639.27,292.51 L639.43,290.60 L639.61,288.69 L639.80,286.77 L640.01,284.87 L640.24,282.97 L640.48,281.09 L640.74,279.22 L641.02,277.27 L641.35,275.32 L641.71,273.42 L642.14,271.63 L642.72,269.71 L643.43,267.89 L644.25,266.51 L645.24,265.46 L646.35,264.94 L647.38,265.15 L648.39,265.62 L649.54,266.68 L650.63,268.09 L651.49,269.25 L652.33,270.48 L653.18,271.69 L654.02,272.82 L654.87,273.93 L655.73,275.01 L656.58,276.05 L657.43,277.07 L658.28,278.07 L659.13,279.02 L659.98,279.96 L660.84,280.88 L661.68,281.76 L662.53,282.62 L663.39,283.46 L664.66,284.67 L665.94,285.84 L667.21,286.95 L668.49,288.03 L669.77,289.05 L671.05,290.04 L672.32,290.98 L673.60,291.89 L674.87,292.76 L676.15,293.59 L677.42,294.39 L678.70,295.16 L679.98,295.90 L681.25,296.60 L682.53,297.28 L683.81,297.93 L685.08,298.55 L686.36,299.15 L687.63,299.72 L688.91,300.27 L690.19,300.80 L691.46,301.31 L692.74,301.79 L694.02,302.26 L695.29,302.71 L696.57,303.13 L697.84,303.54 L699.12,303.94 L700.40,304.32 L701.67,304.68 L702.95,305.03 L704.22,305.36 L705.50,305.68 L706.78,305.99 L708.05,306.28 L709.33,306.56 L710.60,306.83 L711.88,307.09 L713.16,307.34 L714.43,307.58 L715.71,307.81 L716.99,308.03 L718.26,308.24 L719.54,308.45 L720.81,308.64 L722.09,308.83 L723.37,309.00 L724.64,309.18 L725.92,309.34 L727.19,309.50 L728.47,309.65 L729.75,309.79 L731.02,309.93 L732.30,310.07 L733.58,310.19 L734.85,310.32 L736.13,310.43 L737.40,310.55 L738.68,310.65 L739.96,310.76 L741.23,310.86 L742.51,310.95 L743.78,311.05 L745.06,311.13 L746.34,311.22 L747.61,311.30 L748.89,311.38 L750.17,311.45 L751.44,311.52 L752.72,311.59 L753.99,311.66 L755.27,311.72 L756.55,311.78 L757.82,311.84 L759.10,311.89 L760.37,311.95 L761.65,312.00 L762.93,312.05 L764.20,312.09 L765.48,312.14 L766.75,312.18 L768.03,312.22 L769.31,312.26 L770.58,312.30 L771.86,312.34 L773.14,312.37 L774.41,312.41 L775.69,312.44 L776.96,312.47 L778.24,312.50 L779.52,312.53 L780.79,312.56 L782.07,312.58 L783.34,312.61 L784.62,312.63 L785.90,312.66 L787.17,312.68 L788.45,312.70 L789.73,312.72 L791.00,312.74 L791.96,312.75 L792.92,312.77 L793.87,312.79 L794.83,312.80 L795.79,312.82 L796.74,312.83 L797.70,312.85 L798.66,312.86 L799.62,312.88 L800.57,312.90 L801.53,312.91 L802.49,312.93 L803.44,312.95 L804.40,312.96 L805.36,312.98 L806.31,312.99 L807.27,313.01 L808.23,313.03 L809.19,313.04 L810.14,313.06 L811.10,313.08 L812.06,313.10 L813.01,313.11 L813.97,313.13 L814.93,313.15 L815.89,313.16 L816.84,313.18 L817.80,313.20 L1647.28,313.20" stroke="#00ff00" stroke-width="4.7"/>
<path d="M-276.48,559.45 L626.70,559.45 L627.15,557.97 L627.27,555.95 L627.39,553.92 L627.51,551.89 L627.64,549.87 L627.77,547.84 L627.90,545.82 L628.03,543.80 L628.16,541.77 L628.29,539.75 L628.42,537.90 L628.56,536.05 L628.70,534.21 L628.84,532.36 L628.98,530.51 L629.13,528.67 L629.28,526.82 L629.42,524.98 L629.57,523.13 L629.71,521.29 L629.85,519.44 L629.99,517.60 L630.12,515.75 L630.24,513.90 L630.36,512.05 L630.46,510.20 L630.70,505.79 L630.93,501.37 L631.15,496.95 L631.35,492.52 L631.55,488.09 L631.74,483.67 L631.92,479.23 L632.09,474.80 L632.26,470.36 L632.42,465.93 L632.58,461.49 L632.73,457.05 L632.87,452.60 L633.02,448.16 L633.16,443.72 L633.29,439.27 L633.43,434.83 L633.56,430.38 L633.70,425.94 L633.83,421.49 L633.96,417.05 L634.10,412.60 L634.24,408.16 L634.37,403.71 L634.52,399.27 L634.66,394.83 L634.81,390.39 L634.97,385.95 L635.13,381.52 L635.29,377.09 L635.47,372.65 L635.65,368.22 L635.83,363.80 L636.03,359.37 L636.24,354.95 L636.45,350.54 L636.68,346.12 L636.91,341.71 L637.16,337.30 L637.42,332.90 L637.54,330.91 L637.66,328.91 L637.79,326.89 L637.93,324.88 L638.08,322.87 L638.25,320.88 L638.44,318.91 L638.65,316.97 L638.88,315.06 L639.14,313.20 L639.49,311.46 L639.96,309.77 L640.51,308.11 L641.06,306.50 L641.60,304.88 L642.18,303.28 L642.81,301.76 L643.48,300.39 L644.44,298.81 L645.52,297.64 L646.27,297.17 L647.05,296.95 L647.89,297.18 L648.71,297.64 L649.68,298.38 L650.63,299.21 L651.90,300.14 L653.18,301.02 L654.45,301.82 L655.73,302.59 L657.00,303.29 L658.28,303.95 L659.56,304.57 L660.84,305.14 L662.11,305.68 L663.39,306.18 L664.66,306.65 L665.94,307.09 L667.22,307.49 L668.49,307.87 L669.77,308.23 L671.05,308.56 L672.32,308.87 L673.60,309.16 L674.87,309.43 L676.15,309.68 L677.43,309.91 L678.70,310.13 L679.98,310.34 L681.25,310.53 L682.53,310.71 L683.81,310.87 L685.08,311.03 L686.36,311.17 L687.63,311.31 L688.91,311.43 L690.19,311.55 L691.46,311.66 L692.74,311.76 L694.02,311.86 L695.29,311.95 L696.57,312.03 L697.84,312.11 L699.12,312.18 L700.40,312.25 L701.67,312.31 L702.95,312.37 L704.22,312.43 L705.50,312.48 L706.78,312.53 L708.05,312.57 L709.33,312.61 L710.61,312.65 L711.88,312.69 L713.16,312.72 L714.43,312.76 L715.44,312.78 L716.44,312.81 L717.44,312.84 L718.44,312.87 L719.45,312.90 L720.45,312.93 L721.45,312.96 L722.46,312.99 L723.46,313.03 L724.46,313.06 L725.46,313.09 L726.47,313.13 L727.47,313.16 L728.47,313.20 L1647.28,313.20" stroke="#0000ff" stroke-width="4.7"/>
<path d="M-310.30,559.45 L626.70,559.45 L627.15,557.97 L627.27,555.95 L627.39,553.92 L627.51,551.89 L627.64,549.87 L627.77,547.84 L627.90,545.82 L628.03,543.80 L628.16,541.77 L628.29,539.75 L628.42,537.90 L628.56,536.05 L628.70,534.21 L628.84,532.36 L628.98,530.51 L629.13,528.67 L629.28,526.82 L629.42,524.98 L629.57,523.13 L629.71,521.29 L629.85,519.44 L629.99,517.60 L630.12,515.75 L630.24,513.90 L630.36,512.05 L630.46,510.20 L630.70,505.78 L630.92,501.36 L631.14,496.94 L631.33,492.50 L631.52,488.07 L631.70,483.63 L631.87,479.19 L632.03,474.74 L632.18,470.29 L632.33,465.84 L632.47,461.38 L632.60,456.93 L632.73,452.47 L632.86,448.01 L632.98,443.55 L633.11,439.09 L633.22,434.63 L633.34,430.17 L633.46,425.71 L633.58,421.25 L633.71,416.80 L633.83,412.34 L633.96,407.89 L634.09,403.44 L634.23,398.99 L634.37,394.55 L634.52,390.11 L634.68,385.68 L634.84,381.24 L635.02,376.82 L635.20,372.40 L635.39,367.98 L635.60,363.57 L635.82,359.17 L636.05,354.77 L636.29,350.38 L636.55,346.00 L636.82,341.62 L637.11,337.26 L637.42,332.90 L637.63,330.67 L637.91,328.45 L638.24,326.24 L638.57,324.03 L638.83,322.19 L639.11,320.36 L639.46,318.62 L640.01,316.63 L640.74,314.97 L641.48,313.97 L642.33,313.40 L643.59,313.25 L644.88,313.20 L645.84,313.20 L646.80,313.20 L647.76,313.20 L648.71,313.20 L1647.28,313.20" stroke="#ff0000" stroke-width="5.0"/>
</g>
<rect x="566.8" y="30.05" width="281.4000000000001" height="114.64999999999999" fill="#fff" stroke="#161616" stroke-width="1.5"/>
<path d="M575.0,51.5 H662.8" stroke="#00ff00" stroke-width="4.7" fill="none"/>
<path d="M575.0,87.4 H662.8" stroke="#0000ff" stroke-width="4.7" fill="none"/>
<path d="M575.0,123.3 H662.8" stroke="#ff0000" stroke-width="4.7" fill="none"/>
<defs><clipPath id="k0"><path clip-rule="evenodd" d="M-53.39,-37.70 H5.00 V14.50 H-53.39 Z M-47.56,-9.05 H-41.09 V2.00 H-47.56 Z M-38.53,-9.05 H-32.29 V2.00 H-38.53 Z"/></clipPath><clipPath id="k1"><path clip-rule="evenodd" d="M-25.16,-37.70 H25.16 V14.50 H-25.16 Z M4.85,-9.05 H11.32 V2.00 H4.85 Z M13.88,-9.05 H20.13 V2.00 H13.88 Z"/></clipPath><clipPath id="k2"><path clip-rule="evenodd" d="M-33.22,-37.70 H33.22 V14.50 H-33.22 Z M-3.21,-9.05 H3.26 V2.00 H-3.21 Z M5.82,-9.05 H12.06 V2.00 H5.82 Z"/></clipPath><clipPath id="k3"><path clip-rule="evenodd" d="M-43.37,-29.90 H5.00 V11.50 H-43.37 Z M-37.99,-7.18 H-32.59 V2.00 H-37.99 Z M-30.56,-7.18 H-25.34 V2.00 H-30.56 Z"/></clipPath><clipPath id="k4"><path clip-rule="evenodd" d="M-27.38,-29.90 H27.38 V11.50 H-27.38 Z M9.98,-7.18 H15.37 V2.00 H9.98 Z M17.41,-7.18 H22.63 V2.00 H17.41 Z"/></clipPath><clipPath id="k5"><path clip-rule="evenodd" d="M-27.38,-29.90 H27.38 V11.50 H-27.38 Z M-2.82,-7.18 H2.58 V2.00 H-2.82 Z M4.62,-7.18 H9.84 V2.00 H4.62 Z"/></clipPath><clipPath id="k6"><path clip-rule="evenodd" d="M-27.38,-29.90 H27.38 V11.50 H-27.38 Z M-2.82,-7.18 H2.58 V2.00 H-2.82 Z M4.62,-7.18 H9.84 V2.00 H4.62 Z"/></clipPath></defs>
<g font-family="'Liberation Sans', Arial, sans-serif" fill="#0d0d0d" stroke="#0d0d0d" stroke-width="0.28" text-rendering="geometricPrecision">
<g transform="translate(93.00,537.80)"><text transform="translate(-16.13,0) scale(1,1.04)" font-size="29">0</text></g>
<g transform="translate(93.00,468.59)" clip-path="url(#k0)"><text transform="translate(-48.39,0) scale(1,1.04)" font-size="29">100</text></g>
<g transform="translate(93.00,399.37)"><text transform="translate(-48.39,0) scale(1,1.04)" font-size="29">200</text></g>
<g transform="translate(93.00,330.16)"><text transform="translate(-48.39,0) scale(1,1.04)" font-size="29">300</text></g>
<g transform="translate(93.00,260.95)"><text transform="translate(-48.39,0) scale(1,1.04)" font-size="29">400</text></g>
<g transform="translate(93.00,191.73)"><text transform="translate(-48.39,0) scale(1,1.04)" font-size="29">500</text></g>
<g transform="translate(93.00,122.52)"><text transform="translate(-48.39,0) scale(1,1.04)" font-size="29">600</text></g>
<g transform="translate(93.00,53.31)"><text transform="translate(-48.39,0) scale(1,1.04)" font-size="29">700</text></g>
<g transform="translate(129.94,567.30)"><text transform="translate(-8.06,0) scale(1,1.04)" font-size="29">0</text></g>
<g transform="translate(253.61,567.30)"><text transform="translate(-28.22,0) scale(1,1.04)" font-size="29">0.05</text></g>
<g transform="translate(377.29,567.30)" clip-path="url(#k1)"><text transform="translate(-20.16,0) scale(1,1.04)" font-size="29">0.1</text></g>
<g transform="translate(500.97,567.30)" clip-path="url(#k2)"><text transform="translate(-28.22,0) scale(1,1.04)" font-size="29">0.15</text></g>
<g transform="translate(624.65,567.30)"><text transform="translate(-20.16,0) scale(1,1.04)" font-size="29">0.2</text></g>
<g transform="translate(748.32,567.30)"><text transform="translate(-28.22,0) scale(1,1.04)" font-size="29">0.25</text></g>
<g transform="translate(872.00,567.30)"><text transform="translate(-20.16,0) scale(1,1.04)" font-size="29">0.3</text></g>
<g transform="translate(489.20,609.70)"><text transform="translate(-54.89,0) scale(1,1.025)" font-size="32.4">Time(s)</text></g>
<g transform="translate(29.00,266.50) rotate(-90)"><text transform="translate(-50.23,0) scale(1,1.025)" font-size="32.3">N(rpm)</text></g>
<g transform="translate(669.40,62.20)"><text transform="translate(0.00,0) scale(1,1.04)" font-size="26.1">BP-PID</text></g>
<g transform="translate(669.40,98.10)"><text transform="translate(0.00,0) scale(1,1.04)" font-size="26.1">DBO-BP-PID</text></g>
<g transform="translate(669.40,134.00)"><text transform="translate(0.00,0) scale(1,1.04)" font-size="26.1">EDBO-BP-PID</text></g>
<g transform="translate(218.30,309.60)" clip-path="url(#k3)"><text transform="translate(-38.37,0) scale(1,1.04)" font-size="23">150</text></g>
<g transform="translate(218.30,276.89)"><text transform="translate(-38.37,0) scale(1,1.04)" font-size="23">200</text></g>
<g transform="translate(218.30,244.18)"><text transform="translate(-38.37,0) scale(1,1.04)" font-size="23">250</text></g>
<g transform="translate(317.52,329.10)" clip-path="url(#k4)"><text transform="translate(-22.38,0) scale(1,1.04)" font-size="23">0.01</text></g>
<g transform="translate(421.20,329.10)"><text transform="translate(-22.38,0) scale(1,1.04)" font-size="23">0.02</text></g>
<g transform="translate(323.00,214.30)"><text transform="translate(-59.88,0) scale(1,1.025)" font-size="25.5">N=250rpm</text></g>
<g transform="translate(614.20,322.90)"><text transform="translate(-38.37,0) scale(1,1.04)" font-size="23">500</text></g>
<g transform="translate(614.20,273.65)"><text transform="translate(-38.37,0) scale(1,1.04)" font-size="23">550</text></g>
<g transform="translate(690.19,362.00)" clip-path="url(#k5)"><text transform="translate(-22.38,0) scale(1,1.04)" font-size="23">0.16</text></g>
<g transform="translate(817.80,362.00)" clip-path="url(#k6)"><text transform="translate(-22.38,0) scale(1,1.04)" font-size="23">0.18</text></g>
<g transform="translate(719.00,247.10)"><text transform="translate(-59.88,0) scale(1,1.025)" font-size="25.5">N=500rpm</text></g>
</g>
</svg>
</body></html>
